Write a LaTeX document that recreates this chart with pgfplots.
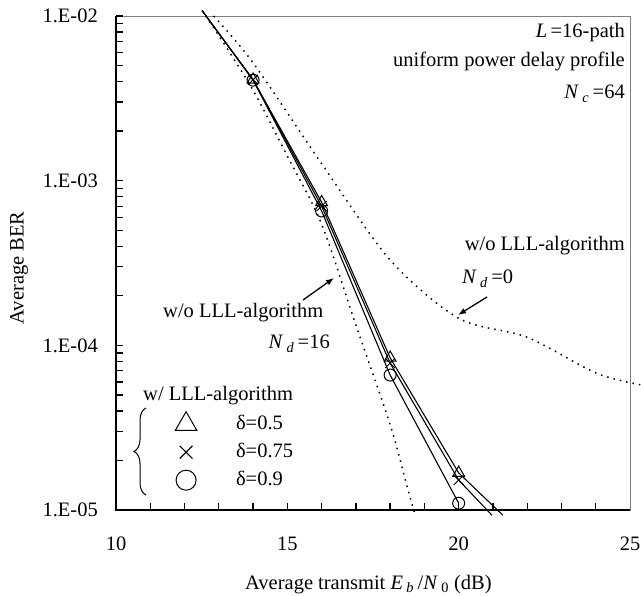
\documentclass[border=0pt]{standalone}
\usepackage{fontspec}
\setmainfont{Liberation Serif}
\usepackage{pgfplots}
\pgfplotsset{compat=1.18}
\usetikzlibrary{arrows.meta,decorations.pathreplacing}

\begin{document}
\fontsize{20.5bp}{24bp}\selectfont
\begin{tikzpicture}
\begin{axis}[
  at={(116bp,86bp)}, anchor=south west,
  scale only axis, width=514bp, height=494bp,
  xmin=10, xmax=25,
  ymode=log, ymin=1e-5, ymax=1e-2,
  clip=false,
  axis line style={draw=gray, line width=0.8bp},
  xtick={10,15,20,25}, xticklabels={10,15,20,25},
  ytick={1e-5,1e-4,1e-3,1e-2},
  yticklabels={1.E-05,1.E-04,1.E-03,1.E-02},
  xtick pos=bottom, ytick pos=left,
  major tick length=0pt, minor tick length=0pt,
  yticklabel style={inner sep=0pt, anchor=east, xshift=-18bp},
  xticklabel style={inner sep=0pt, anchor=north, yshift=-27bp},
  dotcurve/.style={black, line width=1.5bp, dash pattern=on 1.5bp off 5bp, smooth},
  solidcurve/.style={black, line width=1.1bp, mark indices={2,3,4,5},
    mark options={solid, fill=white, line width=1bp}},
  legend style={draw=none, fill=none, inner sep=0pt, outer sep=0pt,
    at={(axis description cs:0.113,0.199)}, anchor=north west,
    row sep=6bp, legend cell align=left},
  legend image code/.code={\path[draw=none, fill=none] (-12bp,-11bp) rectangle (48bp,11bp);
    \draw[#1] plot coordinates {(0bp,0bp)};},
]
% w/o LLL, N_d = 0
\addplot[dotcurve, forget plot] coordinates {
(12.85,1.0e-2) (14,5.2e-3) (16,1.27e-3) (18,3.3e-4) (20,1.46e-4)
(22,1.12e-4) (24,6.8e-5) (25.32,5.75e-5)};
% w/o LLL, N_d = 16
\addplot[dotcurve, forget plot] coordinates {
(12.62,1.0e-2) (13,7.6e-3) (14,3.54e-3) (15,1.41e-3) (16,5.45e-4)
(17,1.33e-4) (18,3.3e-5) (18.5,1.38e-5) (18.73,9.3e-6)};
% w/ LLL, delta = 0.5
\addplot[solidcurve, mark=triangle, mark size=6.8bp, forget plot] coordinates {
(12.51,1.08e-2) (14,4.1e-3) (16,7.4e-4) (18,8.4e-5) (20,1.68e-5) (21.29,9.3e-6)};
% w/ LLL, delta = 0.75
\addplot[solidcurve, mark=x, mark size=7bp, forget plot] coordinates {
(12.51,1.08e-2) (14,4.1e-3) (16,7.0e-4) (18,7.8e-5) (20,1.52e-5) (20.97,9.3e-6)};
% w/ LLL, delta = 0.9
\addplot[solidcurve, mark=o, mark size=6bp, forget plot] coordinates {
(12.51,1.08e-2) (14,4.08e-3) (16,6.55e-4) (18,6.6e-5) (20,1.10e-5)};

\addlegendimage{only marks, mark=triangle, mark size=12.5bp, mark options={fill=white, line width=1bp}}
\addlegendentry{δ=0.5}
\addlegendimage{only marks, mark=x, mark size=9bp, mark options={line width=1.2bp}}
\addlegendentry{δ=0.75}
\addlegendimage{only marks, mark=o, mark size=10bp, mark options={fill=white, line width=1bp}}
\addlegendentry{δ=0.9}

\draw[black, line width=1.5bp] (rel axis cs:0,1) -- (rel axis cs:0,0) -- (rel axis cs:1,0);
\end{axis}

% tick marks (axis box: x 116..630 bp, y 86..580 bp; 164.667 bp per decade, 34.267 bp per dB)
\foreach \d in {0,1,2}
  \foreach \o in {0,49.57,78.57,99.14,115.10,128.14,139.16,148.71,157.13}
    \draw[black, line width=1.3bp] (116bp,{(86+164.667*\d+\o)*1bp}) -- ++(7bp,0bp);
\draw[black, line width=1.3bp] (116bp,580bp) -- ++(7bp,0bp);
\foreach \k in {1,...,14}
  \draw[black, line width=1.3bp] ({(116+34.267*\k)*1bp},86bp) -- ++(0bp,7bp);

% annotations (positions in px of the reference, y measured from the bottom)
\node[anchor=base east, inner sep=0pt] at (625bp,558bp) {\textit{L}\,=16-path};
\node[anchor=base east, inner sep=0pt] at (625bp,529bp) {uniform power delay profile};
\node[anchor=base east, inner sep=0pt] at (625bp,497bp) {\textit{N}\,\textsubscript{\textit{c}}\,=64};
\node[anchor=base east, inner sep=0pt] at (625bp,345bp) {w/o LLL-algorithm};
\node[anchor=base west, inner sep=0pt] at (462bp,312bp) {\textit{N}\,\textsubscript{\textit{d}}\,=0};
\draw[line width=1.3bp, -{Latex[length=8bp,width=6bp]}] (487bp,299bp) -- (458bp,281bp);
\node[anchor=base west, inner sep=0pt] at (163bp,278bp) {w/o LLL-algorithm};
\node[anchor=base east, inner sep=0pt] at (330bp,247bp) {\textit{N}\,\textsubscript{\textit{d}}\,=16};
\draw[line width=1.3bp, -{Latex[length=8bp,width=6bp]}] (303bp,296bp) -- (334bp,318bp);
\node[anchor=base west, inner sep=0pt] at (143bp,195bp) {w/ LLL-algorithm};
\draw[line width=1bp, decorate, decoration={brace, amplitude=12bp}] (146bp,101bp) -- (146bp,188bp);
\node[rotate=90, anchor=base, inner sep=0pt] at (23.5bp,328bp) {Average BER};
\node[anchor=base west, inner sep=0pt] at (245bp,7bp)
  {Average transmit \textit{E}\,\textsubscript{\textit{b}}\,/\textit{N}\,\textsubscript{0} (dB)};

\pgfresetboundingbox
\path[use as bounding box] (0bp,0bp) rectangle (641bp,596bp);
\end{tikzpicture}
\end{document}
